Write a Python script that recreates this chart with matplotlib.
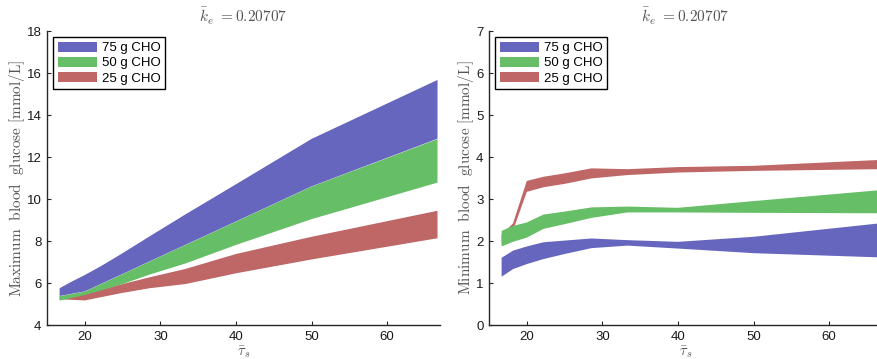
import matplotlib
matplotlib.use("Agg")
import matplotlib.pyplot as plt
import numpy as np

plt.rcParams['mathtext.fontset'] = 'cm'
plt.rcParams['font.family'] = ['Liberation Sans', 'DejaVu Sans']

tau = [16.67, 18.18, 20.0, 22.22, 25.0, 28.57, 33.33, 40.0, 50.0, 66.67]
labels = ["75 g CHO", "50 g CHO", "25 g CHO"]
colors = ["#6666BF", "#66BF66", "#BF6666"]

# Maximum blood glucose (upper / lower bounds)
max75_hi = [5.75, 6.05, 6.38, 6.82, 7.42, 8.22, 9.27, 10.7, 12.86, 15.67]
max75_lo = [5.38, 5.48, 5.60, 5.97, 6.43, 7.03, 7.82, 8.93, 10.60, 12.87]
max50_hi = [5.37, 5.47, 5.59, 5.96, 6.42, 7.02, 7.81, 8.92, 10.59, 12.85]
max50_lo = [5.16, 5.28, 5.43, 5.65, 5.95, 6.40, 6.93, 7.81, 9.04, 10.78]
max25_hi = [5.36, 5.42, 5.46, 5.70, 5.95, 6.27, 6.67, 7.38, 8.20, 9.44]
max25_lo = [5.22, 5.20, 5.17, 5.33, 5.53, 5.75, 5.95, 6.46, 7.12, 8.13]

# Minimum blood glucose (upper / lower bounds)
min75_hi = [1.60, 1.77, 1.87, 1.97, 2.01, 2.06, 2.02, 1.98, 2.10, 2.42]
min75_lo = [1.15, 1.33, 1.45, 1.57, 1.69, 1.83, 1.89, 1.82, 1.71, 1.61]
min50_hi = [2.24, 2.36, 2.44, 2.63, 2.70, 2.80, 2.82, 2.79, 2.95, 3.21]
min50_lo = [1.87, 1.98, 2.08, 2.29, 2.40, 2.55, 2.68, 2.68, 2.67, 2.66]
min25_hi = [2.15, 2.42, 3.43, 3.53, 3.61, 3.73, 3.71, 3.76, 3.79, 3.93]
min25_lo = [1.95, 2.25, 3.17, 3.28, 3.36, 3.49, 3.57, 3.63, 3.67, 3.71]

txt_color = "#555555"

fig = plt.figure(figsize=(8.78, 3.59), dpi=100)
ax1 = fig.add_axes([47/878, 34/359, 393/878, 294/359])
ax2 = fig.add_axes([489/878, 34/359, 393/878, 294/359])

def draw(ax, bands, ylim, yticks, ylabel):
    handles = []
    for (hi, lo), c, lab, z in zip(bands, colors, labels, [3, 2, 1]):
        h = ax.fill_between(tau, lo, hi, facecolor=c, edgecolor='none',
                            linewidth=0, zorder=z, label=lab)
        handles.append(h)
    ax.set_xlim(15, 67)
    ax.set_ylim(*ylim)
    ax.set_yticks(yticks)
    ax.set_xticks([20, 30, 40, 50, 60])
    for s in ['top', 'right']:
        ax.spines[s].set_visible(False)
    for s in ['left', 'bottom']:
        ax.spines[s].set_color('#262626')
        ax.spines[s].set_linewidth(1.0)
    ax.tick_params(direction='in', length=3, width=0.8, colors='#262626',
                   labelsize=9.5, labelcolor='#1a1a1a', pad=4)
    ax.set_title(r"$\bar{k}_e\ {=}0.20707$", color=txt_color, fontsize=11, pad=6)
    ax.set_xlabel(r"$\bar{\tau}_s$", color=txt_color, fontsize=10.5, labelpad=1)
    ax.set_ylabel(ylabel, color=txt_color, fontsize=11, labelpad=0)
    leg = ax.legend(handles=handles, loc='upper left', fontsize=9.5,
                    frameon=True, fancybox=False, edgecolor='black',
                    framealpha=1, borderpad=0.35, borderaxespad=0.45,
                    handlelength=3.0, handleheight=0.85, handletextpad=0.35,
                    labelspacing=0.17)
    leg.get_frame().set_linewidth(1.0)

draw(ax1, [(max75_hi, max75_lo), (max50_hi, max50_lo), (max25_hi, max25_lo)],
     (4, 18), [4, 6, 8, 10, 12, 14, 16, 18],
     r"$\mathrm{Maximum\ \ blood\ \ glucose\ [mmol/L]}$")
draw(ax2, [(min75_hi, min75_lo), (min50_hi, min50_lo), (min25_hi, min25_lo)],
     (0, 7), [0, 1, 2, 3, 4, 5, 6, 7],
     r"$\mathrm{Minimum\ \ blood\ \ glucose\ [mmol/L]}$")

fig.savefig("out.png", dpi=100)
